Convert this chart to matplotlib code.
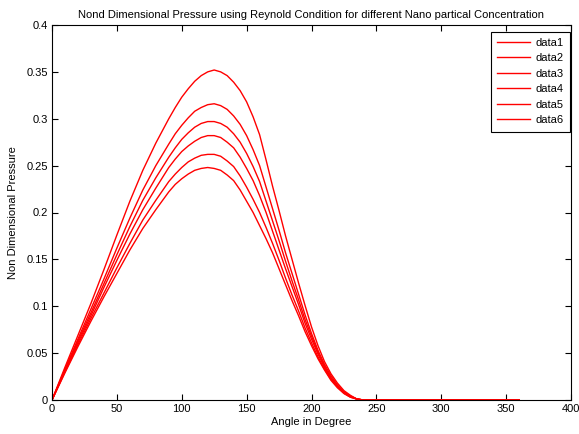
import matplotlib
matplotlib.use("Agg")
import matplotlib.pyplot as plt

plt.rcParams['font.family'] = ['Liberation Sans', 'DejaVu Sans']

angle = ([0, 10, 20, 30, 40, 50, 60, 70, 80]
         + [90, 95, 100, 105, 110, 115, 120, 125, 130, 135, 140, 145, 150, 155,
            160, 165, 170, 175, 180, 185, 190, 195, 200, 205, 210, 215, 220,
            225, 230, 235, 240]
         + [250, 260, 270, 280, 290, 300, 310, 320, 330, 340, 350, 360])

tail_zeros = [0] * 12

data1 = ([0, 0.035, 0.069, 0.103, 0.139, 0.176, 0.212, 0.245, 0.274]
         + [0.300, 0.312, 0.323, 0.332, 0.340, 0.346, 0.350, 0.352, 0.350, 0.346,
            0.339, 0.330, 0.318, 0.302, 0.283, 0.256, 0.228, 0.202, 0.175, 0.150,
            0.125, 0.101, 0.078, 0.058, 0.041, 0.028, 0.018, 0.010, 0.005, 0.001, 0]
         + tail_zeros)
data2 = ([0, 0.033, 0.065, 0.097, 0.129, 0.162, 0.194, 0.224, 0.250]
         + [0.273, 0.284, 0.293, 0.301, 0.308, 0.312, 0.315, 0.316, 0.314, 0.310,
            0.303, 0.294, 0.282, 0.267, 0.250, 0.227, 0.204, 0.181, 0.157, 0.135,
            0.113, 0.091, 0.071, 0.053, 0.038, 0.026, 0.016, 0.009, 0.004, 0.001, 0]
         + tail_zeros)
data3 = ([0, 0.032, 0.063, 0.093, 0.124, 0.155, 0.185, 0.213, 0.237]
         + [0.259, 0.269, 0.278, 0.285, 0.291, 0.295, 0.297, 0.297, 0.295, 0.291,
            0.284, 0.275, 0.263, 0.249, 0.233, 0.212, 0.191, 0.170, 0.148, 0.127,
            0.107, 0.086, 0.068, 0.051, 0.036, 0.024, 0.015, 0.008, 0.004, 0.001, 0]
         + tail_zeros)
data4 = ([0, 0.031, 0.061, 0.090, 0.120, 0.149, 0.177, 0.203, 0.226]
         + [0.248, 0.257, 0.265, 0.271, 0.276, 0.280, 0.282, 0.282, 0.280, 0.275,
            0.269, 0.259, 0.247, 0.234, 0.218, 0.200, 0.180, 0.160, 0.140, 0.121,
            0.102, 0.082, 0.065, 0.049, 0.035, 0.023, 0.015, 0.008, 0.004, 0.001, 0]
         + tail_zeros)
data5 = ([0, 0.030, 0.059, 0.087, 0.114, 0.141, 0.167, 0.192, 0.213]
         + [0.233, 0.241, 0.248, 0.254, 0.258, 0.261, 0.262, 0.262, 0.260, 0.255,
            0.249, 0.239, 0.227, 0.214, 0.200, 0.184, 0.167, 0.149, 0.130, 0.112,
            0.095, 0.077, 0.061, 0.046, 0.033, 0.022, 0.014, 0.007, 0.003, 0.001, 0]
         + tail_zeros)
data6 = ([0, 0.029, 0.057, 0.084, 0.110, 0.135, 0.160, 0.183, 0.203]
         + [0.222, 0.230, 0.236, 0.241, 0.245, 0.247, 0.248, 0.247, 0.245, 0.240,
            0.234, 0.224, 0.212, 0.200, 0.186, 0.172, 0.157, 0.140, 0.123, 0.106,
            0.090, 0.073, 0.058, 0.044, 0.032, 0.021, 0.013, 0.007, 0.003, 0.001, 0]
         + tail_zeros)

series = [("data1", data1), ("data2", data2), ("data3", data3),
          ("data4", data4), ("data5", data5), ("data6", data6)]

xticks = [0, 50, 100, 150, 200, 250, 300, 350, 400]
yticks = [0, 0.05, 0.1, 0.15, 0.2, 0.25, 0.3, 0.35, 0.4]
ytick_labels = ["0", "0.05", "0.1", "0.15", "0.2", "0.25", "0.3", "0.35", "0.4"]

W, H = 579, 434
fig = plt.figure(figsize=(W / 100, H / 100), dpi=100)
ax = fig.add_axes([52 / W, 1 - 400 / H, (571 - 52) / W, (400 - 25) / H])

for name, vals in series:
    ax.plot(angle, vals, color="#ff0000", lw=1.0, label=name)

ax.set_xlim(0, 400)
ax.set_ylim(0, 0.4)
ax.set_xticks(xticks)
ax.set_yticks(yticks)
ax.set_yticklabels(ytick_labels)
ax.tick_params(direction="in", top=True, right=True, length=4, width=0.8,
               labelsize=8, pad=3, colors="black")
for s in ax.spines.values():
    s.set_linewidth(0.8)
    s.set_color("black")

ax.set_title("Nond Dimensional Pressure using Reynold Condition for different Nano partical Concentration",
             fontsize=8, pad=5)
ax.set_xlabel("Angle in Degree", fontsize=8, labelpad=2)
ax.set_ylabel("Non Dimensional Pressure", fontsize=8, labelpad=6)

leg = ax.legend(loc="upper right", bbox_to_anchor=(570 / W, 1 - 31.5 / H),
                bbox_transform=fig.transFigure, borderaxespad=0,
                fancybox=False, framealpha=1, edgecolor="black", fontsize=8,
                handlelength=3.0, handletextpad=0.5, labelspacing=0.5,
                borderpad=0.55)
leg.get_frame().set_linewidth(0.8)

fig.savefig("out.png", dpi=100)
